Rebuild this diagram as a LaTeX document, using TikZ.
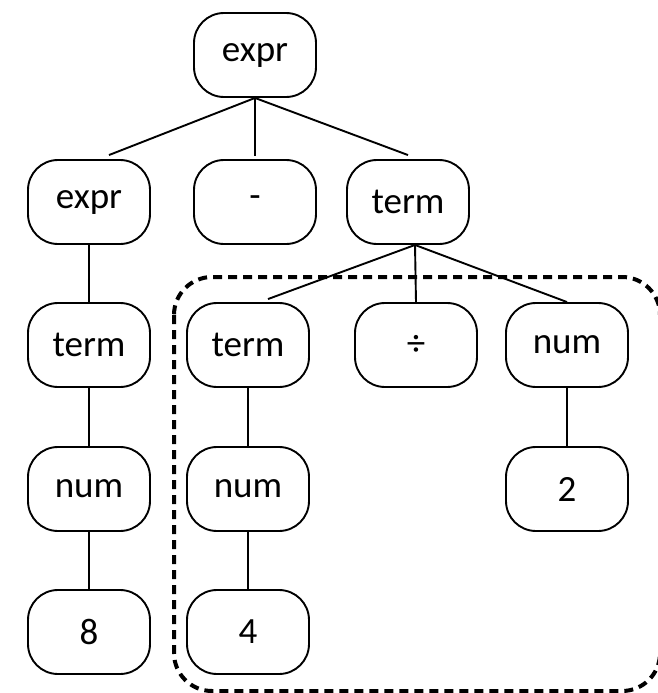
\documentclass[tikz,border=0pt]{standalone}
\usepackage{fontspec}
\setmainfont{Carlito}
\begin{document}
\begin{tikzpicture}[x=1pt,y=-1pt,line width=1.9pt,
    tree node/.style={rectangle,rounded corners=30pt,draw,minimum width=122pt,minimum height=84pt,inner sep=0pt,font=\fontsize{37}{42}\selectfont},
    sub tree/.style={line width=4pt,dash pattern=on 9pt off 6pt,rounded corners=38pt}]
  \useasboundingbox (0,0) rectangle (657,693);

  \node[tree node] at (255, 55) (root) {expr};

  \node[tree node] at (89, 202) (expr) {expr};
  \node[tree node] at (255, 202) (minus) {-};
  \node[tree node] at (408, 202) (term) {term};

  \node[tree node] at (89, 345) (lterm) {term};
  \node[tree node] at (248, 345) (rterm) {term};
  \node[tree node] at (416, 345) (div) {÷};
  \node[tree node] at (567, 345) (rnum) {num};

  \node[tree node] at (89, 489) (lnum) {num};
  \node[tree node] at (248, 489) (mnum) {num};
  \node[tree node] at (567, 489) (two) {2};

  \node[tree node] at (89, 632) (eight) {8};
  \node[tree node] at (248, 632) (four) {4};

  % subtree of the division
  \draw[sub tree] (174, 277) rectangle (660, 691);

  \path
    (root.south) edge ([xshift=20pt,yshift=4pt]expr.north)
    (root.south) edge ([yshift=3pt]minus.north)
    (root.south) edge ([yshift=4pt]term.north)
    ([xshift=7pt]term.south) edge ([xshift=20pt,yshift=3pt]rterm.north)
    ([xshift=7pt]term.south) edge (div.north)
    ([xshift=7pt]term.south) edge (rnum.north)
    (expr) edge (lterm)
    (lterm) edge (lnum)
    (lnum) edge (eight)
    (rterm) edge (mnum)
    (mnum) edge (four)
    (rnum) edge (two)
    ;
\end{tikzpicture}
\end{document}
